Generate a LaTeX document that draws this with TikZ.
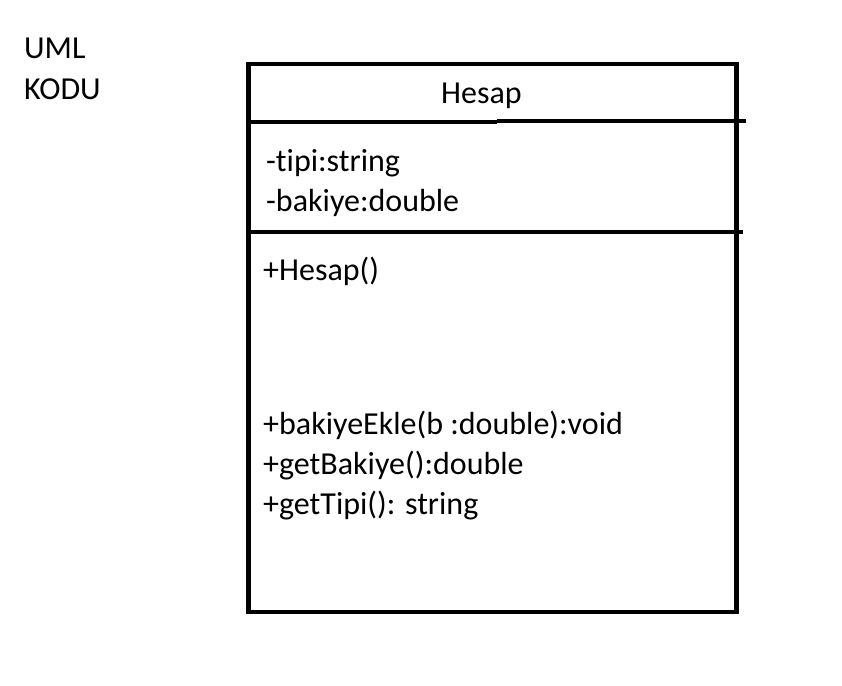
\documentclass[tikz,border=0pt]{standalone}
\usepackage{fontspec}
\setmainfont{Carlito}[Ligatures=NoCommon]
\usetikzlibrary{positioning}

\begin{document}
\begin{tikzpicture}[
    x=1pt, y=-1pt,
    umltext/.style={anchor=base west, inner sep=0pt, font=\fontsize{32}{40}\selectfont},
    border/.style={line width=4.6pt, line cap=rect},
    divider/.style={line width=4.2pt}
]
\useasboundingbox[fill=white] (0,0) rectangle (842,685);
% class box
\draw[border] (248.5,64) rectangle (736.5,612);
\coordinate (div1a) at (248.5,122);
\coordinate (div1b) at (497,122);
\coordinate (div1c) at (746,121);
\coordinate (div2a) at (248.5,232);
\coordinate (div2b) at (743,232);
\draw[divider] (div1a) -- (div1b);
\draw[divider] (497,121) -- (div1c);
\draw[divider] (div2a) -- (div2b);
% labels
\node[umltext] (uml) at (24,59) {UML};
\node[umltext] (kodu) at (24,99) {KODU};
\node[umltext] (name) at (441,103) {Hesap};
\node[umltext] (tipi) at (266,171) {-tipi:string};
\node[umltext] (bakiye) at (266,211) {-bakiye:double};
\node[umltext] (ctor) at (263,280) {+Hesap()};
\node[umltext] (ekle) at (263,434) {+bakiyeEkle(b :double):void};
\node[umltext] (getbakiye) at (263,474) {+getBakiye():double};
\node[umltext] (gettipi) at (263,514) {+getTipi(): string};
\end{tikzpicture}
\end{document}
